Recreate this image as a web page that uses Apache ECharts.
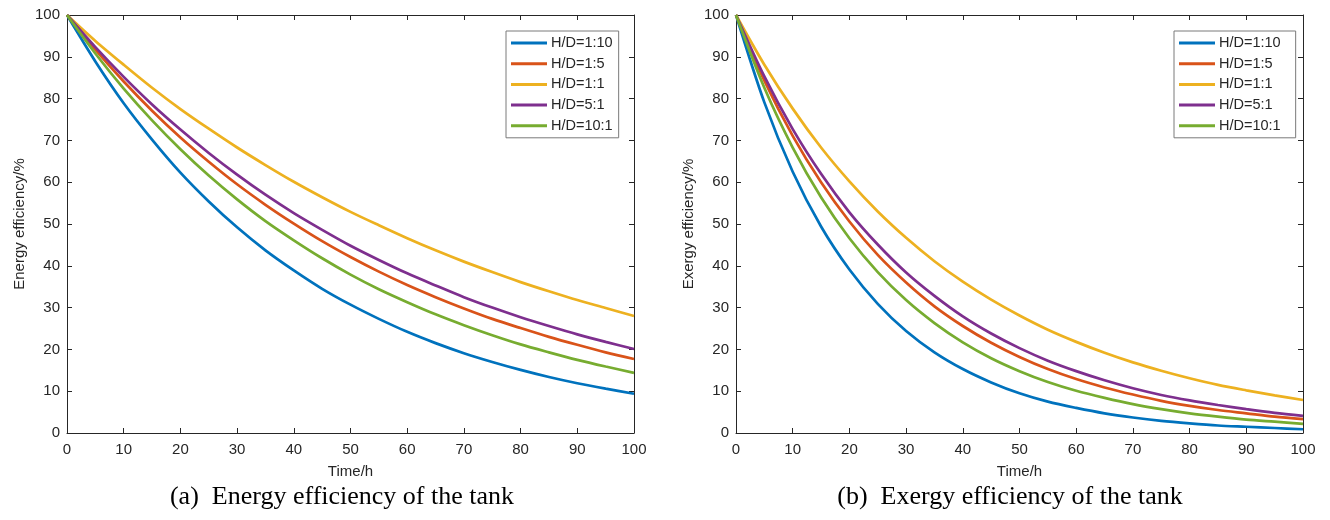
<!DOCTYPE html>
<html>
<head>
<meta charset="utf-8">
<script src="https://cdn.jsdelivr.net/npm/echarts@6/dist/echarts.min.js"></script>
<style>
html,body{margin:0;padding:0;background:#fff;}
#chart{width:1330px;height:520px;}
</style>
</head>
<body>
<div id="chart"></div>
<script>
// ---- data ----
const hours = [0, 5, 10, 15, 20, 25, 30, 35, 40, 45, 50, 55, 60, 65, 70, 75, 80, 85, 90, 95, 100];
const seriesNames = ['H/D=1:10', 'H/D=1:5', 'H/D=1:1', 'H/D=5:1', 'H/D=10:1'];
const axisTicks = [0, 10, 20, 30, 40, 50, 60, 70, 80, 90, 100];

// (a) Energy efficiency, %
const energy_1_10 = [100, 88.9, 78.9, 70.2, 62.3, 55.4, 49.2, 43.7, 38.9, 34.5, 30.7, 27.3, 24.2, 21.5, 19.1, 17.0, 15.1, 13.4, 11.9, 10.6, 9.4];
const energy_1_5  = [100, 91.7, 84.1, 77.1, 70.7, 64.9, 59.5, 54.6, 50.1, 45.9, 42.1, 38.6, 35.4, 32.5, 29.8, 27.3, 25.1, 23.0, 21.1, 19.3, 17.7];
const energy_1_1  = [100, 93.8, 88.1, 82.6, 77.5, 72.8, 68.3, 64.1, 60.1, 56.4, 52.9, 49.7, 46.6, 43.7, 41.0, 38.5, 36.1, 33.9, 31.8, 29.9, 28.0];
const energy_5_1  = [100, 92.3, 85.2, 78.6, 72.6, 67.0, 61.8, 57.0, 52.6, 48.6, 44.8, 41.4, 38.2, 35.3, 32.5, 30.0, 27.7, 25.6, 23.6, 21.8, 20.1];
const energy_10_1 = [100, 90.8, 82.4, 74.8, 67.9, 61.6, 55.9, 50.7, 46.1, 41.8, 37.9, 34.4, 31.3, 28.4, 25.8, 23.4, 21.2, 19.3, 17.5, 15.9, 14.4];

// (b) Exergy efficiency, %
const exergy_1_10 = [100, 79.1, 62.5, 49.4, 39.1, 30.9, 24.4, 19.3, 15.3, 12.1, 9.5, 7.5, 6.0, 4.7, 3.7, 2.9, 2.3, 1.8, 1.5, 1.2, 0.9];
const exergy_1_5  = [100, 84.3, 71.1, 60.0, 50.6, 42.6, 36.0, 30.3, 25.6, 21.6, 18.2, 15.3, 12.9, 10.9, 9.2, 7.7, 6.5, 5.5, 4.7, 3.9, 3.3];
const exergy_1_1  = [100, 88.1, 77.6, 68.3, 60.2, 53.0, 46.7, 41.1, 36.2, 31.9, 28.1, 24.7, 21.8, 19.2, 16.9, 14.9, 13.1, 11.5, 10.2, 9.0, 7.9];
const exergy_5_1  = [100, 85.3, 72.7, 62.0, 52.8, 45.1, 38.4, 32.8, 27.9, 23.8, 20.3, 17.3, 14.8, 12.6, 10.7, 9.1, 7.8, 6.7, 5.7, 4.8, 4.1];
const exergy_10_1 = [100, 82.6, 68.3, 56.4, 46.6, 38.5, 31.8, 26.3, 21.7, 17.9, 14.8, 12.2, 10.1, 8.4, 6.9, 5.7, 4.7, 3.9, 3.2, 2.7, 2.2];

const colors = ['#0072BD', '#D95319', '#EDB120', '#7E2F8E', '#77AC30'];
const energySets = [energy_1_10, energy_1_5, energy_1_1, energy_5_1, energy_10_1];
const exergySets = [exergy_1_10, exergy_1_5, exergy_1_1, exergy_5_1, exergy_10_1];

const AX = '#262626';
const FONT = 'Liberation Sans, Arial, Helvetica, sans-serif';

function pairs(vals) { return hours.map((h, i) => [h, vals[i]]); }

function xAx(gridIndex, pos, showLabel, name) {
  return {
    type: 'value', gridIndex: gridIndex, position: pos, min: 0, max: 100, interval: 10,
    name: name || '', nameLocation: 'middle', nameGap: 31,
    nameTextStyle: { color: AX, fontSize: 15, fontFamily: FONT },
    axisLine: { show: true, onZero: false, lineStyle: { color: AX, width: 1 } },
    axisTick: { show: true, inside: true, length: 5, lineStyle: { color: AX } },
    axisLabel: { show: showLabel, color: AX, fontSize: 15, fontFamily: FONT, margin: 9,
                 formatter: v => axisTicks.indexOf(v) >= 0 ? String(v) : '' },
    splitLine: { show: false }
  };
}
function yAx(gridIndex, pos, showLabel, name) {
  return {
    type: 'value', gridIndex: gridIndex, position: pos, min: 0, max: 100, interval: 10,
    name: name || '', nameLocation: 'middle', nameGap: 40,
    nameTextStyle: { color: AX, fontSize: 15, fontFamily: FONT },
    axisLine: { show: true, onZero: false, lineStyle: { color: AX, width: 1 } },
    axisTick: { show: true, inside: true, length: 5, lineStyle: { color: AX } },
    axisLabel: { show: showLabel, color: AX, fontSize: 15, fontFamily: FONT, margin: 7,
                 formatter: v => axisTicks.indexOf(v) >= 0 ? String(v) : '' },
    splitLine: { show: false }
  };
}

const series = [];
energySets.forEach((d, i) => series.push({
  name: seriesNames[i], type: 'line', xAxisIndex: 0, yAxisIndex: 0,
  data: pairs(d), smooth: 0.3, showSymbol: false, symbol: 'none',
  lineStyle: { color: colors[i], width: 2.7 }, itemStyle: { color: colors[i] }, z: 2 + i
}));
exergySets.forEach((d, i) => series.push({
  name: seriesNames[i], type: 'line', xAxisIndex: 2, yAxisIndex: 2,
  data: pairs(d), smooth: 0.3, showSymbol: false, symbol: 'none',
  lineStyle: { color: colors[i], width: 2.7 }, itemStyle: { color: colors[i] }, z: 2 + i
}));

function legend(left, padRight) {
  return {
    show: true, orient: 'vertical', left: left, top: 31,
    data: seriesNames, icon: 'rect', itemWidth: 36, itemHeight: 3, itemGap: 5.7,
    padding: [4.5, padRight, 4.5, 5],
    backgroundColor: '#ffffff', borderColor: '#7a7a7a', borderWidth: 1, borderRadius: 0,
    textStyle: { color: AX, fontSize: 14.5, fontFamily: FONT, lineHeight: 15, padding: [0, 0, 0, -1] },
    selectedMode: false
  };
}

const CAP = { fontFamily: 'Liberation Serif, Times New Roman, serif', fontWeight: 'normal', fontSize: 26, color: '#000' };

const option = {
  backgroundColor: '#ffffff',
  animation: false,
  color: colors,
  title: [
    { text: '(a)  Energy efficiency of the tank', left: 337, top: 479, textAlign: 'center', textStyle: CAP },
    { text: '(b)  Exergy efficiency of the tank', left: 1005, top: 479, textAlign: 'center', textStyle: CAP }
  ],
  legend: [legend(506, 6), legend(1174, 15)],
  grid: [
    { left: 67, top: 15, width: 567, height: 418 },
    { left: 736, top: 15, width: 567, height: 418 }
  ],
  xAxis: [
    xAx(0, 'bottom', true, 'Time/h'), xAx(0, 'top', false),
    xAx(1, 'bottom', true, 'Time/h'), xAx(1, 'top', false)
  ],
  yAxis: [
    yAx(0, 'left', true, 'Energy efficiency/%'), yAx(0, 'right', false),
    yAx(1, 'left', true, 'Exergy efficiency/%'), yAx(1, 'right', false)
  ],
  series: series
};

const chart = echarts.init(document.getElementById('chart'), null, { renderer: 'canvas' });
chart.setOption(option);
</script>
</body>
</html>
